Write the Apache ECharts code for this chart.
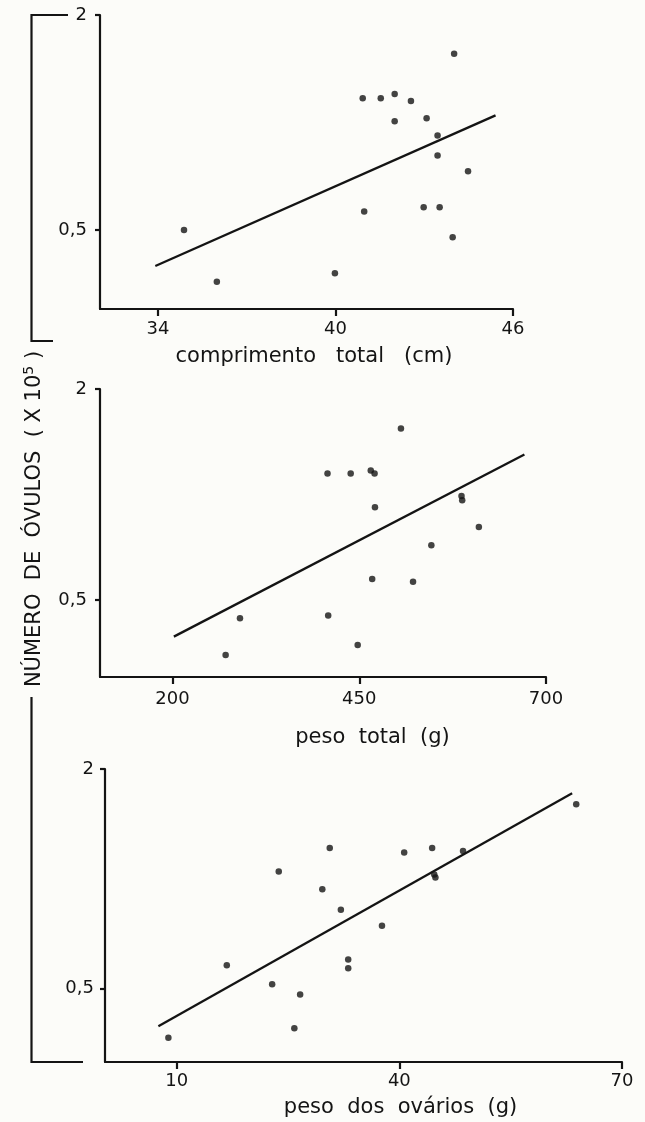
<!DOCTYPE html>
<html>
<head>
<meta charset="utf-8">
<script src="https://cdn.jsdelivr.net/npm/echarts@6/dist/echarts.min.js"></script>
<style>
  html, body { margin: 0; background: #fcfcf9; }
  #chart { width: 645px; height: 1122px; }
</style>
</head>
<body>
<div id="chart"></div>
<script>
// comprimento total (cm)
const compX = [34.88, 35.99, 39.98, 40.92, 41.53, 42.0, 42.55, 42.0, 43.08, 43.45, 43.45, 44.01, 44.48, 40.97, 42.98, 43.52, 43.96];
const compY = [0.5, 0.14, 0.2, 1.42, 1.42, 1.45, 1.4, 1.26, 1.28, 1.16, 1.02, 1.73, 0.91, 0.63, 0.66, 0.66, 0.45];
const compLineX = [33.91, 45.41];
const compLineY = [0.25, 1.3];
const compTicks = [34, 40, 46];

// peso total (g)
const pesoX = [271.1, 290.3, 408.4, 407.5, 438.5, 465.4, 470.5, 471.0, 447.9, 467.3, 522.0, 505.8, 546.5, 586.9, 587.8, 610.1];
const pesoY = [0.11, 0.37, 0.39, 1.4, 1.4, 1.42, 1.4, 1.16, 0.18, 0.65, 0.63, 1.72, 0.89, 1.24, 1.21, 1.02];
const pesoLineX = [201.8, 671.1];
const pesoLineY = [0.24, 1.535];
const pesoTicks = [200, 450, 700];

// peso dos ovários (g)
const ovarX = [8.88, 16.75, 23.75, 22.86, 26.63, 25.85, 29.62, 30.62, 32.12, 33.11, 33.11, 37.66, 40.65, 44.42, 44.7, 44.86, 48.58, 63.83];
const ovarY = [0.165, 0.66, 1.3, 0.53, 0.46, 0.23, 1.18, 1.46, 1.04, 0.7, 0.64, 0.93, 1.43, 1.46, 1.28, 1.26, 1.44, 1.76];
const ovarLineX = [7.53, 63.28];
const ovarLineY = [0.244, 1.834];
const ovarTicks = [10, 40, 70];

const yTicks = [0.5, 2];

const INK = '#141414';
const FONT = 'DejaVu Sans';

const panels = [
  { xs: compX, ys: compY, lx: compLineX, ly: compLineY, ticks: compTicks,
    name: 'comprimento   total   (cm)',
    grid: { left: 100, top: 15, width: 413, height: 294 },
    xMin: 32.04, xMax: 46, yMin: -0.05, nameGap: 37, namePad: 15, labelMargin: 11, yMargin: 13 },
  { xs: pesoX, ys: pesoY, lx: pesoLineX, ly: pesoLineY, ticks: pesoTicks,
    name: 'peso  total  (g)',
    grid: { left: 100, top: 389, width: 446, height: 288 },
    xMin: 102.9, xMax: 700, yMin: -0.047, nameGap: 50, namePad: 99, labelMargin: 13, yMargin: 13 },
  { xs: ovarX, ys: ovarY, lx: ovarLineX, ly: ovarLineY, ticks: ovarTicks,
    name: 'peso  dos  ovários  (g)',
    grid: { left: 105, top: 769, width: 517, height: 293 },
    xMin: 0.34, xMax: 70, yMin: 0, nameGap: 35, namePad: 74, labelMargin: 10, yMargin: 11 }
];

const chart = echarts.init(document.getElementById('chart'));

const option = {
  backgroundColor: '#fcfcf9',
  animation: false,
  textStyle: { fontFamily: FONT, color: INK },
  grid: panels.map((p) => ({ ...p.grid, containLabel: false })),
  xAxis: panels.map((p, i) => ({
    gridIndex: i,
    type: 'value',
    min: p.xMin,
    max: p.xMax,
    axisLine: { onZero: false, lineStyle: { color: INK, width: 2.2 } },
    axisTick: { show: true, length: 7, customValues: p.ticks, lineStyle: { color: INK, width: 2.2 } },
    axisLabel: { customValues: p.ticks, color: INK, fontSize: 18, fontFamily: FONT, margin: p.labelMargin },
    splitLine: { show: false },
    name: p.name,
    nameLocation: 'middle',
    nameGap: p.nameGap,
    nameTextStyle: { color: INK, fontSize: 21, fontFamily: FONT, padding: [0, 0, 0, p.namePad] }
  })),
  yAxis: panels.map((p, i) => ({
    gridIndex: i,
    type: 'value',
    min: p.yMin,
    max: 2,
    axisLine: { onZero: false, lineStyle: { color: INK, width: 2.2 } },
    axisTick: { show: true, length: 5, customValues: yTicks, lineStyle: { color: INK, width: 2.2 } },
    axisLabel: {
      customValues: yTicks,
      color: INK,
      fontSize: 18,
      fontFamily: FONT,
      margin: p.yMargin,
      formatter: (v) => String(v).replace('.', ',')
    },
    splitLine: { show: false }
  })),
  series: panels.flatMap((p, i) => [
    {
      type: 'scatter',
      xAxisIndex: i,
      yAxisIndex: i,
      symbolSize: 6.5,
      itemStyle: { color: INK },
      data: p.xs.map((x, k) => [x, p.ys[k]])
    },
    {
      type: 'line',
      xAxisIndex: i,
      yAxisIndex: i,
      showSymbol: false,
      symbol: 'none',
      lineStyle: { color: INK, width: 2.3 },
      data: p.lx.map((x, k) => [x, p.ly[k]])
    }
  ]),
  graphic: [
    {
      type: 'polyline',
      shape: { points: [[68, 15], [31.5, 15], [31.5, 341], [53, 341]] },
      style: { stroke: INK, lineWidth: 2.2, fill: 'none' }
    },
    {
      type: 'polyline',
      shape: { points: [[31.5, 697], [31.5, 1062], [83, 1062]] },
      style: { stroke: INK, lineWidth: 2.2, fill: 'none' }
    },
    {
      type: 'text',
      x: 35,
      y: 519,
      rotation: Math.PI / 2,
      style: {
        text: '{a|NÚMERO  DE  ÓVULOS  ( X 10}{s|5}{a| )}',
        align: 'center',
        verticalAlign: 'middle',
        fill: INK,
        rich: {
          a: { fontSize: 21, fontFamily: FONT, lineHeight: 26, fill: INK },
          s: { fontSize: 14, fontFamily: FONT, lineHeight: 14, verticalAlign: 'top', fill: INK }
        }
      }
    }
  ]
};

chart.setOption(option);
</script>
</body>
</html>
